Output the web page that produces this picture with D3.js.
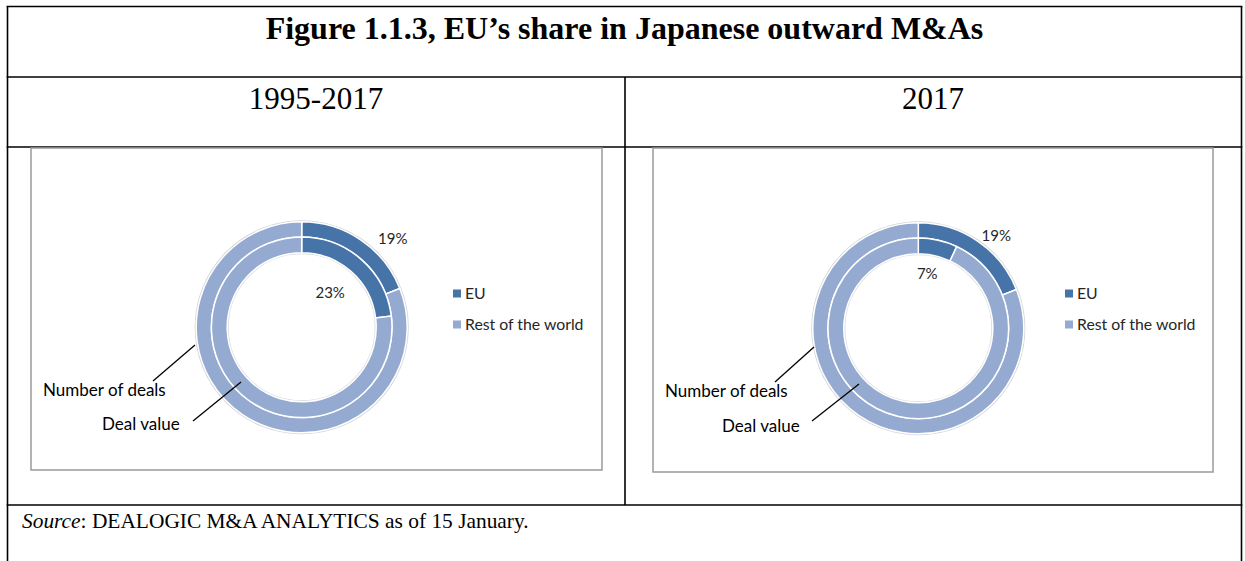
<!DOCTYPE html>
<html>
<head>
<meta charset="utf-8">
<script src="https://cdn.jsdelivr.net/npm/d3@7/dist/d3.min.js"></script>
<style>
  body { margin: 0; background: #fff; }
  svg { display: block; }
</style>
</head>
<body>
<svg id="fig" width="1245" height="561"></svg>
<script>
// data
var categories = ["EU", "Rest of the world"];
var rings = ["Number of deals", "Deal value"];
var periods = ["1995-2017", "2017"];
var dealsShare = [[19, 81], [19, 81]];   // outer ring, per period
var valueShare = [[23, 77], [7, 93]];    // inner ring, per period

var title = "Figure 1.1.3, EU\u2019s share in Japanese outward M&As";

var svg = d3.select('#fig');
var colors = d3.scaleOrdinal().domain(categories).range(["#4673a8", "#94aad0"]);

// table frame
var tbl = svg.append('g').attr('stroke', '#000').attr('stroke-width', 1.6);
var L = 7.5, R = 1241.5;
[6.5, 77, 147, 505].forEach(function(y) {
    tbl.append('line').attr('x1', L - 0.8).attr('x2', R + 0.8).attr('y1', y).attr('y2', y);
});
tbl.append('line').attr('x1', L).attr('x2', L).attr('y1', 6).attr('y2', 561);
tbl.append('line').attr('x1', R).attr('x2', R).attr('y1', 6).attr('y2', 561);
tbl.append('line').attr('x1', 625).attr('x2', 625).attr('y1', 77).attr('y2', 505);

svg.append('text').attr('x', 624.5).attr('y', 39)
    .attr('text-anchor', 'middle')
    .style('font-family', '"Liberation Serif", "Times New Roman", serif')
    .style('font-weight', 'bold').style('font-size', '32px')
    .text(title);

var src = svg.append('text').attr('x', 22).attr('y', 528)
    .style('font-family', '"Liberation Serif", "Times New Roman", serif')
    .style('font-size', '21.4px');
src.append('tspan').style('font-style', 'italic').text('Source');
src.append('tspan').text(': DEALOGIC M&A ANALYTICS as of 15 January.');

// chart panels
var panels = [
    { head: 316, box: [31, 148, 602, 470], cx: 301.7, cy: 327.3,
      lblOff: [[36, -8], [-26, 27]],
      notes: [[43, 396, 153, 381, 195, 345], [102, 430, 193, 421, 241, 382]],
      legend: [453, 465] },
    { head: 933, box: [653, 148, 1213, 472], cx: 918.3, cy: 328.3,
      lblOff: [[23, -12], [-9, 26]],
      notes: [[665, 397, 775, 382, 814, 347], [722, 432, 812, 421, 859, 384]],
      legend: [1065, 1077] }
];

var rOuter = 105.5, rMid = 90.3, rInner = 74.5;
var pie = d3.pie().sort(null).value(function(d) { return d; });
var arcOuter = d3.arc().innerRadius(rMid).outerRadius(rOuter);
var arcInner = d3.arc().innerRadius(rInner).outerRadius(rMid);
var sans = 'Lato, "Open Sans", sans-serif';

panels.forEach(function(p, i) {
    svg.append('text').attr('x', p.head).attr('y', 109)
        .attr('text-anchor', 'middle')
        .style('font-family', '"Liberation Serif", "Times New Roman", serif')
        .style('font-size', '31px')
        .text(periods[i]);

    var b = p.box;
    svg.append('rect').attr('x', b[0]).attr('y', b[1])
        .attr('width', b[2] - b[0]).attr('height', b[3] - b[1])
        .attr('fill', '#fff').attr('stroke', '#9a9a9a').attr('stroke-width', 1.5);

    var g = svg.append('g').attr('transform', 'translate(' + p.cx + ',' + p.cy + ')');
    // soft edge like Excel's doughnut shadow
    g.append('circle').attr('r', rOuter + 0.8).attr('fill', 'none').attr('stroke', '#d4d4d4').attr('stroke-width', 1.5);
    g.append('circle').attr('r', rInner - 0.8).attr('fill', 'none').attr('stroke', '#dcdcdc').attr('stroke-width', 1.5);

    var outer = pie(dealsShare[i]);
    var inner = pie(valueShare[i]);
    g.selectAll('path.outer').data(outer).enter().append('path')
        .attr('class', 'outer').attr('d', arcOuter)
        .attr('fill', function(d, k) { return colors(categories[k]); })
        .attr('stroke', '#fff').attr('stroke-width', 1.5);
    g.selectAll('path.inner').data(inner).enter().append('path')
        .attr('class', 'inner').attr('d', arcInner)
        .attr('fill', function(d, k) { return colors(categories[k]); })
        .attr('stroke', '#fff').attr('stroke-width', 1.5);

    // EU data labels
    [[outer[0], arcOuter], [inner[0], arcInner]].forEach(function(a, k) {
        var c = a[1].centroid(a[0]);
        g.append('text')
            .attr('x', c[0] + p.lblOff[k][0]).attr('y', c[1] + p.lblOff[k][1])
            .attr('text-anchor', 'middle').attr('dy', '0.35em')
            .style('font-family', sans).style('font-size', '15px').attr('fill', '#262626')
            .text(a[0].data + '%');
    });

    // ring annotations
    p.notes.forEach(function(n, k) {
        svg.append('line').attr('x1', n[2]).attr('y1', n[3]).attr('x2', n[4]).attr('y2', n[5])
            .attr('stroke', '#000').attr('stroke-width', 1.3);
        svg.append('text').attr('x', n[0]).attr('y', n[1])
            .style('font-family', sans).style('font-size', '17px').attr('fill', '#000')
            .text(rings[k]);
    });

    // legend
    categories.forEach(function(c, k) {
        var y = 293.5 + k * 31;
        svg.append('rect').attr('x', p.legend[0]).attr('y', y - 4)
            .attr('width', 8).attr('height', 8).attr('fill', colors(c));
        svg.append('text').attr('x', p.legend[1]).attr('y', y).attr('dy', '0.35em')
            .style('font-family', sans).style('font-size', '15.8px').attr('fill', '#262626')
            .text(c);
    });
});
</script>
</body>
</html>
